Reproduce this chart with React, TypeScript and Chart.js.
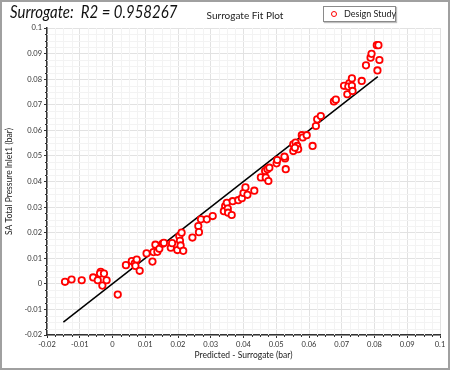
import React, { useEffect, useRef } from "react";
import { Chart, registerables } from "chart.js";
Chart.register(...registerables);

const titleText = "Surrogate:  R2 = 0.958267";
const subtitleText = "Surrogate Fit Plot";
const legendLabel = "Design Study";
const xAxisTitle = "Predicted - Surrogate (bar)";
const yAxisTitle = "SA Total Pressure Inlet1 (bar)";

const axisMin = -0.02;
const axisMax = 0.1;
const majorStep = 0.01;
const minorStep = 0.0025;

const predicted = [
  -0.0145, -0.0125, -0.0094, -0.0059, -0.0045, -0.0036, -0.0038, -0.0026, -0.0031, -0.0018,
  0.0016, 0.0041, 0.0059, 0.0068, 0.0074, 0.007, 0.0083, 0.0104, 0.0122, 0.0131,
  0.0125, 0.0137, 0.0143, 0.0153, 0.0157, 0.0178, 0.0182, 0.0198, 0.0204, 0.0206,
  0.0208, 0.0211, 0.0216, 0.0244, 0.0262, 0.0264, 0.027, 0.0288, 0.0306, 0.0344,
  0.0349, 0.034, 0.0352, 0.0353, 0.0364, 0.0367, 0.0384, 0.0395, 0.04, 0.0406,
  0.0412, 0.0433, 0.0453, 0.0468, 0.0466, 0.0473, 0.0479, 0.0476, 0.0501, 0.0503,
  0.0527, 0.0529, 0.0525, 0.0552, 0.0552, 0.0559, 0.0564, 0.0567, 0.0557, 0.0578,
  0.0581, 0.0593, 0.0611, 0.0621, 0.0625, 0.0636, 0.0676, 0.0682, 0.0707, 0.0717,
  0.0723, 0.0731, 0.072, 0.0731, 0.0733, 0.0761, 0.0774, 0.0788, 0.0791, 0.0807,
  0.0812, 0.0815, 0.0809,
];
const actual = [
  0.0008, 0.0017, 0.0014, 0.0025, 0.0014, 0.0047, 0.004, 0.004, -0.0007, 0.0014,
  -0.0042, 0.0073, 0.0089, 0.008, 0.0095, 0.007, 0.0051, 0.0119, 0.0087, 0.0153,
  0.0124, 0.0125, 0.0137, 0.0157, 0.016, 0.0141, 0.0159, 0.0132, 0.0186, 0.0168,
  0.015, 0.02, 0.0129, 0.0181, 0.0226, 0.0202, 0.0252, 0.0252, 0.0265, 0.0304,
  0.0317, 0.0284, 0.0294, 0.0278, 0.0269, 0.0323, 0.0327, 0.0335, 0.0355, 0.0377,
  0.0348, 0.0364, 0.0416, 0.0415, 0.0441, 0.0448, 0.0454, 0.0402, 0.0471, 0.0484,
  0.049, 0.0448, 0.0497, 0.0519, 0.0545, 0.0552, 0.0539, 0.0526, 0.0532, 0.0581,
  0.0572, 0.0581, 0.0539, 0.0617, 0.0643, 0.0656, 0.0713, 0.072, 0.0774, 0.0741,
  0.0784, 0.0803, 0.0771, 0.0774, 0.0754, 0.0793, 0.0854, 0.0884, 0.0899, 0.0933,
  0.0933, 0.0875, 0.0834,
];
const fitX = [-0.015, 0.081];
const fitY = [-0.015, 0.081];

const FONT = "Lato, 'Open Sans', sans-serif";

const fmt = (v: number) => {
  const n = Number(Number(v).toFixed(3));
  return (n === 0 ? 0 : n).toString();
};

const minorPlugin = {
  id: "minorGridTicks",
  beforeDatasetsDraw(chart: any) {
    const { ctx, chartArea, scales } = chart;
    const xs = scales.x;
    const ys = scales.y;
    ctx.save();
    ctx.strokeStyle = "#f3f3f3";
    ctx.lineWidth = 1;
    const n = Math.round((axisMax - axisMin) / minorStep);
    for (let i = 0; i <= n; i++) {
      if (i % 4 === 0) continue;
      const v = axisMin + i * minorStep;
      const px = Math.round(xs.getPixelForValue(v)) + 0.5;
      const py = Math.round(ys.getPixelForValue(v)) + 0.5;
      ctx.beginPath();
      ctx.moveTo(px, chartArea.top);
      ctx.lineTo(px, chartArea.bottom);
      ctx.moveTo(chartArea.left, py);
      ctx.lineTo(chartArea.right, py);
      ctx.stroke();
    }
    ctx.restore();
  },
  afterDraw(chart: any) {
    const { ctx, chartArea, scales } = chart;
    const xs = scales.x;
    const ys = scales.y;
    ctx.save();
    ctx.strokeStyle = "#333";
    ctx.lineWidth = 1;
    const n = Math.round((axisMax - axisMin) / minorStep);
    for (let i = 0; i <= n; i++) {
      if (i % 4 === 0) continue;
      const v = axisMin + i * minorStep;
      const px = Math.round(xs.getPixelForValue(v)) + 0.5;
      const py = Math.round(ys.getPixelForValue(v)) + 0.5;
      ctx.beginPath();
      ctx.moveTo(px, chartArea.bottom);
      ctx.lineTo(px, chartArea.bottom + 2);
      ctx.moveTo(chartArea.left, py);
      ctx.lineTo(chartArea.left - 2, py);
      ctx.stroke();
    }
    ctx.restore();
  },
};

export default function App() {
  const canvasRef = useRef<HTMLCanvasElement | null>(null);

  useEffect(() => {
    document.body.style.margin = "0";
    const canvas = canvasRef.current;
    if (!canvas) return;
    const chart = new Chart(canvas, {
      type: "scatter",
      data: {
        datasets: [
          {
            label: legendLabel,
            data: predicted.map((x, i) => ({ x, y: actual[i] })),
            pointRadius: 3.2,
            pointBorderWidth: 1.8,
            borderColor: "#ff0000",
            backgroundColor: "#ffffff",
            order: 0,
          },
          {
            type: "line",
            label: "fit",
            data: fitX.map((x, i) => ({ x, y: fitY[i] })),
            borderColor: "#000000",
            borderWidth: 1.5,
            pointRadius: 0,
            showLine: true,
            fill: false,
            order: 1,
          } as any,
        ],
      },
      options: {
        animation: false,
        responsive: false,
        maintainAspectRatio: false,
        layout: { padding: { top: 28, right: 10, left: 0, bottom: 0 } },
        plugins: {
          legend: { display: false },
          tooltip: { enabled: false },
        },
        scales: {
          x: {
            type: "linear",
            min: axisMin,
            max: axisMax,
            afterFit: (s: any) => {
              s.height = 35;
            },
            ticks: {
              stepSize: majorStep,
              autoSkip: false,
              maxRotation: 0,
              padding: 2,
              color: "#333",
              font: { family: FONT, size: 7.5 },
              callback: (v: any) => fmt(v),
            },
            grid: { color: "#e2e2e2", tickColor: "#333", tickLength: 3, lineWidth: 1 },
            border: { color: "#333", width: 1.5 },
            title: {
              display: true,
              text: xAxisTitle,
              color: "#222",
              font: { family: FONT, size: 8.5 },
              padding: { top: 0, bottom: 9.5 },
            },
          },
          y: {
            type: "linear",
            min: axisMin,
            max: axisMax,
            afterFit: (s: any) => {
              s.width = 47;
            },
            ticks: {
              stepSize: majorStep,
              autoSkip: false,
              padding: 2,
              color: "#333",
              font: { family: FONT, size: 7.5 },
              callback: (v: any) => fmt(v),
            },
            grid: { color: "#e2e2e2", tickColor: "#333", tickLength: 3, lineWidth: 1 },
            border: { color: "#333", width: 1.5 },
            title: {
              display: true,
              text: yAxisTitle,
              color: "#222",
              font: { family: FONT, size: 8.5 },
              padding: { top: 4.6, bottom: 0 },
            },
          },
        },
      },
      plugins: [minorPlugin],
    });
    return () => chart.destroy();
  }, []);

  return (
    <div style={{ position: "fixed", left: 0, top: 0, width: 450, height: 370, background: "#fff" }}>
      <canvas ref={canvasRef} width={450} height={370} style={{ position: "absolute", left: 0, top: 0, width: 450, height: 370 }} />
      <div
        style={{
          position: "absolute",
          left: 10,
          top: 1,
          fontFamily: FONT,
          fontStyle: "italic",
          fontSize: 17,
          color: "#111",
          whiteSpace: "pre",
          lineHeight: "22px",
          transform: "scaleX(0.88)",
          transformOrigin: "left center",
        }}
      >
        {titleText}
      </div>
      <div
        style={{
          position: "absolute",
          left: 145,
          width: 200,
          top: 8,
          textAlign: "center",
          fontFamily: FONT,
          fontSize: 10,
          color: "#222",
          whiteSpace: "pre",
          lineHeight: "14px",
        }}
      >
        {subtitleText}
      </div>
      <div
        style={{
          position: "absolute",
          left: 323,
          top: 6,
          width: 73,
          height: 16,
          boxSizing: "border-box",
          border: "1px solid #8a8a8a",
          boxShadow: "1px 1px 1px rgba(0,0,0,0.25)",
          background: "#fff",
        }}
      >
        <span
          style={{
            position: "absolute",
            left: 7,
            top: 4,
            width: 6,
            height: 6,
            boxSizing: "border-box",
            border: "1.8px solid #ff0000",
            borderRadius: "50%",
          }}
        />
        <span
          style={{
            position: "absolute",
            left: 20,
            top: 1,
            fontFamily: FONT,
            fontSize: 9,
            color: "#222",
            whiteSpace: "pre",
            lineHeight: "12px",
          }}
        >
          {legendLabel}
        </span>
      </div>
      <div
        style={{
          position: "absolute",
          left: 0,
          top: 0,
          width: 450,
          height: 370,
          boxSizing: "border-box",
          border: "2px solid #a0a0a0",
          pointerEvents: "none",
        }}
      />
    </div>
  );
}
